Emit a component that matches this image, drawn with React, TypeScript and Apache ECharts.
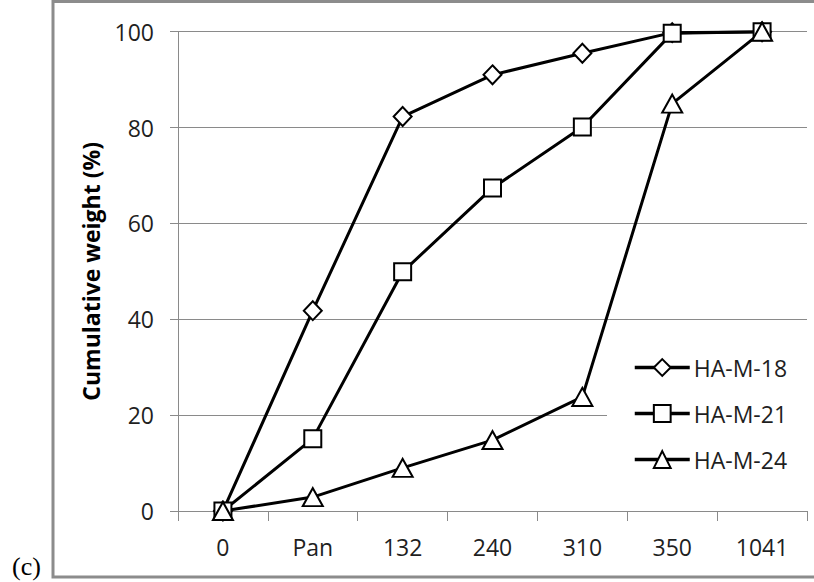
import React, { useEffect, useRef } from "react";
import * as echarts from "echarts";

const categories = ["0", "Pan", "132", "240", "310", "350", "1041"];
const seriesNames = ["HA-M-18", "HA-M-21", "HA-M-24"];
const haM18 = [0, 41.8, 82.3, 91.0, 95.5, 99.8, 100];
const haM21 = [0, 15.1, 49.9, 67.4, 80.1, 99.7, 100];
const haM24 = [0, 2.9, 9.0, 14.8, 23.8, 85.0, 100];
const yTicks = { min: 0, max: 100, interval: 20 };

const FONT = "'Open Sans', 'Noto Sans', sans-serif";
const GRID_GRAY = "#8a8a8a";
const TEXT = "#1f1f1f";

export default function App() {
  const ref = useRef<HTMLDivElement>(null);

  useEffect(() => {
    if (!ref.current) return;
    const chart = echarts.init(ref.current, undefined, { renderer: "svg" });

    const mk = (name: string, data: number[], symbol: string, size: number | number[]) => ({
      name,
      type: "line",
      data,
      symbol,
      symbolSize: size,
      showAllSymbol: true,
      lineStyle: { color: "#000", width: 3 },
      itemStyle: { color: "#fff", borderColor: "#000", borderWidth: 2 },
      emphasis: { disabled: true },
    });

    chart.setOption({
      animation: false,
      textStyle: { fontFamily: FONT },
      grid: { left: 178, right: 7, top: 31.7, bottom: 71, containLabel: false },
      xAxis: {
        type: "category",
        data: categories,
        boundaryGap: true,
        axisLine: { lineStyle: { color: GRID_GRAY, width: 1 } },
        axisTick: { show: true, length: 10, inside: false, alignWithLabel: false, lineStyle: { color: GRID_GRAY } },
        axisLabel: { color: TEXT, fontSize: 23, fontFamily: FONT, margin: 24, interval: 0 },
        splitLine: { show: false },
      },
      yAxis: {
        type: "value",
        min: yTicks.min,
        max: yTicks.max,
        interval: yTicks.interval,
        name: "Cumulative weight (%)",
        nameLocation: "middle",
        nameRotate: 90,
        nameGap: 76,
        nameTextStyle: { color: "#000", fontSize: 23, fontWeight: "bold", fontFamily: FONT },
        axisLine: { show: true, lineStyle: { color: GRID_GRAY, width: 1 } },
        axisTick: { show: true, length: 8, inside: false, lineStyle: { color: GRID_GRAY } },
        axisLabel: { color: TEXT, fontSize: 23, fontFamily: FONT, margin: 24 },
        splitLine: { show: true, lineStyle: { color: GRID_GRAY, width: 1 } },
      },
      legend: {
        orient: "vertical",
        left: 607,
        top: 346,
        padding: [10, 20, 10, 26],
        backgroundColor: "#fff",
        itemWidth: 55,
        itemHeight: 21,
        itemGap: 23,
        data: seriesNames,
        lineStyle: { color: "#000", width: 3.5 },
        itemStyle: { color: "#fff", borderColor: "#000", borderWidth: 2 },
        textStyle: { color: TEXT, fontSize: 23, fontFamily: FONT, padding: [0, 0, 0, -1] },
      },
      graphic: [
        {
          type: "rect",
          shape: { x: 53, y: 1.5, width: 800, height: 575.5 },
          style: { fill: "none", stroke: "#8c8c8c", lineWidth: 3 },
          silent: true,
          z: 100,
        },
        {
          type: "text",
          x: 12,
          y: 579,
          style: {
            text: "(c)",
            font: "26px 'Liberation Serif', 'DejaVu Serif', serif",
            fill: "#000",
            verticalAlign: "bottom",
          },
          silent: true,
        },
      ],
      series: [
        mk(seriesNames[0], haM18, "diamond", [18, 19]),
        mk(seriesNames[1], haM21, "rect", 17),
        mk(seriesNames[2], haM24, "triangle", [20, 18]),
      ],
    });

    return () => chart.dispose();
  }, []);

  return (
    <div
      ref={ref}
      style={{ position: "absolute", left: 0, top: 0, width: 814, height: 582, background: "#fff" }}
    />
  );
}
